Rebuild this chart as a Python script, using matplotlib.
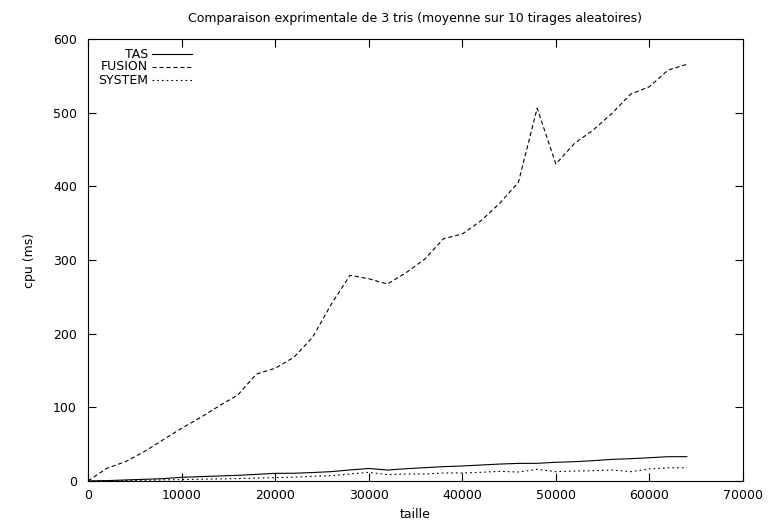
import matplotlib
matplotlib.use("Agg")
import matplotlib.pyplot as plt

# --- Data --- #
taille = list(range(0, 64001, 2000))
tas = [0, 0.5, 1.4, 2.3, 3.2, 5.0, 5.9, 6.8, 7.7, 9.0, 10.4, 10.5, 11.5, 12.7, 15.0, 17.0,
       14.9, 16.7, 18.1, 19.5, 20.4, 21.7, 23.0, 23.9, 24.0, 25.4, 26.2, 27.6, 29.4, 30.3,
       31.6, 33.0, 33.0]
fusion = [0, 17.2, 26.2, 39.8, 55.7, 71.5, 86.0, 101.8, 116.7, 145.2, 153.0, 167.9, 195.0,
          240.0, 279.2, 274.6, 267.4, 282.8, 301.3, 328.9, 335.3, 353.3, 377.0, 405.5, 506.0,
          430.3, 458.4, 476.5, 499.0, 525.3, 535.2, 557.9, 565.6]
system = [0, 0.3, 0.6, 1.0, 1.5, 1.9, 2.4, 2.8, 3.3, 4.0, 4.6, 5.2, 6.3, 7.2, 9.5, 11.8,
          8.6, 9.5, 9.5, 10.9, 10.9, 11.8, 13.1, 12.2, 15.8, 12.7, 13.5, 14.0, 14.9, 12.7,
          16.3, 18.0, 18.0]
series = [("TAS", tas, "-"), ("FUSION", fusion, (0, (3.0, 2.0))), ("SYSTEM", system, (0, (1.2, 2.2)))]
x_ticks = list(range(0, 70001, 10000))
y_ticks = list(range(0, 601, 100))

# --- Plotting --- #
plt.rcParams['font.family'] = ['DejaVu Sans']
plt.rcParams['lines.scale_dashes'] = False
px = 1/100
fig = plt.figure(figsize=(778*px, 523*px), dpi=100)
ax = fig.add_axes([88/778, 1-481/523, (743-88)/778, (481-39)/523])

for name, vals, ls in series:
    ax.plot(taille, vals, color="black", linestyle=ls, linewidth=0.8)

ax.set_xlim(0, 70000)
ax.set_ylim(0, 600)
ax.set_xticks(x_ticks)
ax.set_yticks(y_ticks)
ax.tick_params(axis="both", direction="in", length=6, width=0.8, top=True, right=True, labelsize=9)
ax.tick_params(axis="y", pad=8)
ax.tick_params(axis="x", pad=6)
for s in ax.spines.values():
    s.set_linewidth(0.8)

ax.set_title("Comparaison exprimentale de 3 tris (moyenne sur 10 tirages aleatoires)", fontsize=9, pad=12)
ax.set_xlabel("taille", fontsize=9, labelpad=4)
ax.set_ylabel("cpu (ms)", fontsize=9, labelpad=12)

# gnuplot-style key: right-aligned labels, samples on the right
for i, (name, vals, ls) in enumerate(series):
    yk = 1 - (15 + 13*i)/442
    ax.text(60/655, yk, name, transform=ax.transAxes, ha="right", va="center", fontsize=9)
    ax.plot([64/655, 104/655], [yk, yk], transform=ax.transAxes, color="black",
            linestyle=ls, linewidth=0.8)

fig.savefig("out.png", dpi=100)
